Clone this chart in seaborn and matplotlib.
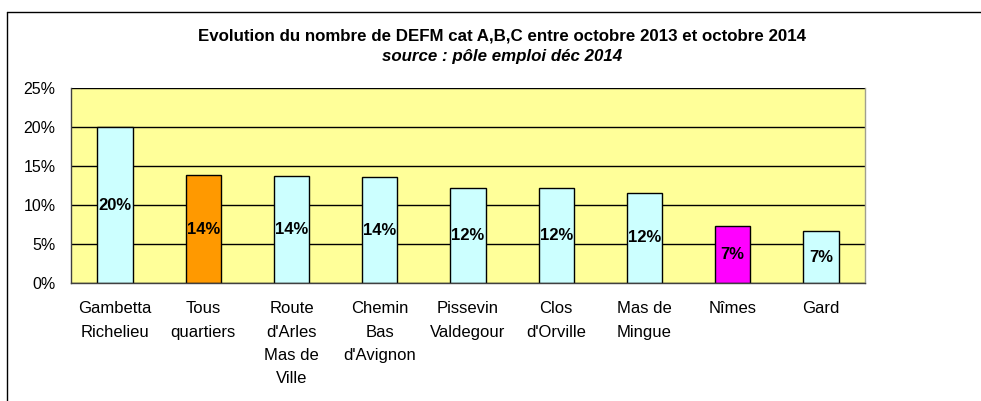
import numpy as np
import matplotlib
matplotlib.use("Agg")
import matplotlib.pyplot as plt
import seaborn as sns
from matplotlib.ticker import PercentFormatter, FixedLocator

sns.set_style("white")
plt.rcParams['font.family'] = ['Liberation Sans', 'DejaVu Sans']
plt.rcParams['text.color'] = 'black'
plt.rcParams['xtick.color'] = 'black'
plt.rcParams['ytick.color'] = 'black'

categories = ["Gambetta\nRichelieu", "Tous\nquartiers", "Route\nd'Arles\nMas de\nVille",
              "Chemin\nBas\nd'Avignon", "Pissevin\nValdegour", "Clos\nd'Orville",
              "Mas de\nMingue", "Nîmes", "Gard"]
values = [0.200, 0.138, 0.137, 0.1355, 0.122, 0.122, 0.116, 0.0735, 0.067]
bar_colors = ["#CCFFFF", "#FF9900", "#CCFFFF", "#CCFFFF", "#CCFFFF",
              "#CCFFFF", "#CCFFFF", "#FF00FF", "#CCFFFF"]
yticks = [0, 0.05, 0.10, 0.15, 0.20, 0.25]

title = "Evolution du nombre de DEFM cat A,B,C entre octobre 2013 et octobre 2014"
subtitle = "source : pôle emploi déc 2014"

W, H = 981, 401
fig = plt.figure(figsize=(W / 100, H / 100), dpi=100)
ax = fig.add_axes([71 / W, 1 - 283.3 / H, (865 - 71) / W, (283.3 - 88) / H])
ax.set_facecolor("#FFFF99")

sns.barplot(x=categories, y=values, hue=categories, palette=bar_colors, legend=False,
            width=0.4, edgecolor="black", linewidth=1, saturation=1, ax=ax)

ax.set_ylim(0, 0.25)
ax.set_xlim(-0.5, len(categories) - 0.5)
ax.set_yticks(yticks)
ax.yaxis.set_major_formatter(PercentFormatter(1.0, decimals=0))
ax.yaxis.grid(True, color="black", linewidth=1)
ax.set_axisbelow(True)

ax.tick_params(axis="x", which="major", length=0, pad=13, labelsize=12, labelcolor="black")
ax.xaxis.set_minor_locator(FixedLocator(np.arange(-0.5, len(categories), 1.0)))
ax.tick_params(axis="x", which="minor", length=5, width=1, color="#404040", direction="out")
ax.tick_params(axis="y", length=5, width=1, color="#404040", direction="out", pad=6,
               labelsize=11.5, labelcolor="black")
for lbl in ax.get_xticklabels():
    lbl.set_linespacing(1.68)
    lbl.set_verticalalignment("top")

ax.spines["top"].set_visible(False)
ax.spines["left"].set_color("#404040")
ax.spines["bottom"].set_color("#404040")
ax.spines["right"].set_color("#A0A090")
for s in ax.spines.values():
    s.set_linewidth(1)

for cont in ax.containers:
    ax.bar_label(cont, labels=["{:.0%}".format(v) for v in cont.datavalues],
                 label_type="center", fontsize=12, fontweight="bold", color="black")

fig.text(502 / W, 1 - 36 / H, title, ha="center", va="center", fontsize=12.2,
         fontweight="bold", color="black")
fig.text(502 / W, 1 - 57 / H, subtitle, ha="center", va="center", fontsize=12.2,
         fontweight="bold", style="italic", color="black")

fig.add_artist(plt.Line2D([7 / W, 1], [1 - 12 / H, 1 - 12 / H], transform=fig.transFigure,
                          color="black", linewidth=1))
fig.add_artist(plt.Line2D([7 / W, 7 / W], [0, 1 - 12 / H], transform=fig.transFigure,
                          color="black", linewidth=1))

fig.savefig("out.png", dpi=100, facecolor="white")
